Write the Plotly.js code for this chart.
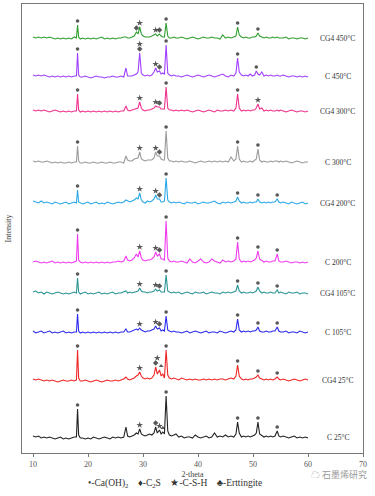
<!DOCTYPE html>
<html><head><meta charset="utf-8">
<script src="https://cdn.plot.ly/plotly-3.0.1.min.js"></script>
<style>html,body{margin:0;padding:0;background:#fff}#chart{width:375px;height:496px}</style>
</head><body><div id="chart"></div>
<script>
// 2-theta grid (degrees)
const twoTheta = [
10,10.5,11,11.5,12,12.5,13,13.5,14,14.5,15,15.5,16,16.5,17,17.5,
17.9,18.1,18.3,18.6,
19,19.5,20,20.5,21,21.5,22,22.5,23,23.5,24,24.5,25,25.5,26,26.5,
26.9,27.2,27.6,28.0,28.4,28.8,29.1,29.4,29.7,30.0,30.4,30.8,31.2,31.6,32.0,32.3,32.6,33.0,33.3,33.6,33.9,34.2,34.5,34.8,35.2,35.6,36.0,
36.5,37,37.5,38,38.5,39,39.5,40,40.5,41,41.5,42,42.5,43,43.5,44,44.5,45,45.5,46,46.5,
46.9,47.2,47.5,47.9,48.3,48.7,49.1,49.5,49.9,50.3,50.6,50.9,51.2,51.6,52.0,52.4,52.8,53.2,53.6,54.0,54.4,54.7,55.0,
55.5,56,56.5,57,57.5,58,58.5,59,59.5,60];

// relative intensities (a.u.)
const C_25 = [3,2,3,1,2,1,2,1,0,1,2,0,1,0,1,2, 2,30,4,1, 1,0,1,0,2,1,0,1,2,1,0,2,1,2,1,2,
12,3,2,3,4,6,5,10,5,4,3,4,5,4,6,12,6,9,5,7,5,43,8,4,3,4,5,
2,3,1,2,2,1,4,2,1,2,3,1,2,6,2,3,2,4,2,3,2,
5,17,6,2,3,2,3,2,3,4,6,17,5,3,2,3,2,3,2,3,8,3,2, 3,2,1,2,3,1,2,1,2,1];
const CG4_25 = [3,2,3,2,1,2,1,2,1,0,1,2,1,1,2,1, 2,32,4,1, 1,2,1,0,1,2,1,0,1,2,1,1,2,1,2,3,
5,3,2,3,4,6,7,10,6,4,3,4,3,4,7,15,8,12,6,8,4,32,7,4,3,4,3,
2,4,3,2,3,2,3,2,2,3,2,3,2,3,2,3,3,2,3,4,3,
6,17,6,3,2,3,2,3,3,4,5,7,4,3,2,3,2,3,2,3,5,3,2, 3,2,1,2,3,2,1,2,3,2];
const C_105 = [3,1,2,3,1,2,3,1,2,1,2,3,1,2,1,2, 2,20,3,1, 2,1,2,1,2,1,2,1,2,1,2,1,2,1,2,2,
5,2,2,3,4,5,4,6,4,3,2,3,3,4,5,8,5,6,3,4,3,18,4,3,2,3,2,
2,1,2,3,1,2,3,2,1,2,3,1,2,2,1,3,2,1,2,3,2,
4,15,4,2,3,2,3,2,3,3,4,7,3,2,2,3,2,2,3,3,7,3,2, 2,3,1,2,2,1,3,2,1,2];
const CG4_105 = [3,4,2,3,1,3,2,1,2,3,2,1,2,1,2,3, 2,17,3,1, 2,3,1,2,1,2,3,1,2,1,2,3,1,2,2,3,
4,2,3,2,3,4,4,7,4,3,3,2,3,3,4,6,4,5,3,3,3,20,4,3,2,3,2,
3,1,2,3,2,1,3,2,2,3,1,2,3,2,2,1,3,2,3,2,3,
4,10,4,2,3,2,2,3,2,3,4,8,4,2,3,2,2,3,2,2,5,2,3, 2,1,3,2,2,3,1,2,2,1];
const C_200 = [2,3,2,1,2,1,2,3,1,2,1,2,1,2,1,2, 3,30,4,2, 1,2,1,2,1,2,1,2,1,2,1,2,2,3,2,3,
8,4,3,4,6,10,7,13,6,4,3,4,4,5,7,12,8,10,5,5,4,43,6,3,2,3,2,
2,3,2,1,5,2,1,3,5,2,1,2,5,3,2,1,4,2,3,2,3,
5,22,5,2,3,2,3,2,3,4,6,13,5,3,2,3,2,2,3,3,10,3,2, 2,3,2,1,2,2,1,2,1,2];
const CG4_200 = [4,3,2,4,2,3,2,1,3,2,1,2,3,1,2,3, 2,15,3,2, 1,2,3,1,2,3,1,2,1,3,2,1,2,3,2,3,
5,4,3,4,5,7,6,12,5,3,2,4,3,4,6,10,6,6,3,3,4,27,5,3,2,3,2,
3,2,1,3,2,2,3,1,2,3,2,2,3,4,2,1,3,2,3,2,3,
4,8,4,2,3,2,2,3,2,3,3,6,3,2,3,2,3,2,3,3,6,3,2, 3,2,1,3,2,1,2,3,1,2];
const C_300 = [3,2,3,2,2,3,2,1,2,1,2,1,1,2,1,2, 2,18,3,1, 1,2,1,1,2,1,1,2,1,1,2,1,1,2,2,1,
8,4,3,3,5,6,6,12,5,4,3,4,4,4,6,12,8,8,5,4,4,33,6,3,3,2,3,
2,3,2,2,3,2,1,2,3,2,2,3,2,3,2,3,2,3,2,7,3,
5,18,5,2,3,2,2,3,2,4,5,15,4,2,3,2,2,3,2,3,3,2,3, 2,3,2,1,2,3,2,1,2,2];
const CG4_300 = [3,2,3,2,3,2,1,2,3,2,1,2,1,2,1,2, 2,19,3,1, 2,1,2,1,2,1,2,1,2,1,2,1,2,1,2,2,
7,3,2,3,4,5,5,11,5,3,2,3,3,4,5,7,6,6,4,4,4,26,5,3,3,2,3,
2,3,2,3,2,1,2,3,2,1,2,3,2,1,3,2,2,3,2,3,2,
5,19,5,2,3,2,3,2,3,3,5,9,4,5,2,3,2,3,2,2,3,2,3, 2,1,2,3,2,1,2,2,1,2];
const C_450 = [3,2,3,2,3,2,1,2,1,2,1,2,1,2,1,2, 2,25,3,1, 1,2,1,0,1,2,1,1,0,1,1,2,1,1,2,1,
10,2,2,2,3,4,6,25,5,3,2,3,2,3,6,10,6,7,4,5,4,33,5,3,2,3,2,
2,1,2,3,2,1,2,3,2,1,2,3,2,1,2,3,4,2,1,3,2,
5,20,6,3,2,3,2,4,2,3,7,4,3,6,2,3,2,3,2,2,3,2,2, 3,2,1,2,2,1,2,1,2,1];
const CG4_450 = [3,2,3,2,3,2,3,2,1,2,1,2,1,2,1,3, 2,15,3,1, 2,1,2,1,2,1,2,3,1,2,1,2,1,2,2,3,
3,2,2,3,4,8,6,13,6,4,3,3,3,4,5,6,4,6,4,3,3,17,4,2,2,3,2,
2,3,2,1,2,3,2,1,2,3,2,2,3,2,2,1,5,2,3,2,3,
4,13,5,3,2,3,2,2,3,3,4,7,4,3,2,3,2,2,3,2,3,2,2, 2,3,1,2,2,1,2,2,1,2];

const sampleNames = ['C 25°C','CG4 25°C','C 105°C','CG4 105°C','C 200°C','CG4 200°C','C 300°C','CG4 300°C','C 450°C','CG4 450°C'];
const seriesData = [C_25, CG4_25, C_105, CG4_105, C_200, CG4_200, C_300, CG4_300, C_450, CG4_450];
const stackOffsets = [14, 71, 119, 158, 189, 248, 289, 340, 375, 413];
const lineColors = ['#222222','#f02626','#2b2bef','#2a9494','#f03cf0','#2aa8e8','#9a9a9a','#f0308e','#a040ff','#2e9e2e'];

// phase marks: [2-theta, phase, stack level]  c=Ca(OH)2 d=C2S s=C-S-H t=Ettringite
const phaseMarks = [
  [[18.1,'c'],[29.4,'s'],[32.3,'d'],[33.0,'s'],[33.6,'t'],[34.2,'c'],[47.2,'c'],[50.9,'c'],[54.4,'c']],
  [[18.1,'c'],[29.4,'s'],[32.3,'d'],[32.6,'s',1],[33.3,'t'],[34.2,'c'],[47.2,'c'],[50.9,'c'],[54.4,'c']],
  [[18.1,'c'],[29.4,'s'],[32.3,'s'],[33.0,'d'],[34.2,'c'],[47.2,'c'],[50.9,'c'],[54.4,'c']],
  [[18.1,'c'],[29.4,'s'],[32.3,'s'],[33.0,'d'],[34.2,'c'],[47.2,'c'],[50.9,'c'],[54.4,'c']],
  [[18.1,'c'],[29.4,'s'],[32.3,'s'],[33.0,'d'],[34.2,'c'],[47.2,'c'],[50.9,'c'],[54.4,'c']],
  [[18.1,'c'],[29.4,'s'],[32.3,'s'],[33.0,'d'],[34.2,'c'],[47.2,'c'],[50.9,'c'],[54.4,'c']],
  [[18.1,'c'],[29.4,'s'],[32.3,'s'],[33.0,'d'],[34.2,'c'],[47.2,'c'],[50.9,'c']],
  [[18.1,'c'],[29.4,'s'],[32.3,'s'],[33.0,'d'],[34.2,'c'],[47.2,'c'],[50.9,'s']],
  [[18.1,'c'],[29.4,'d'],[29.4,'s',1],[32.3,'s'],[33.0,'d'],[34.2,'c'],[47.2,'c'],[50.6,'c']],
  [[18.1,'c'],[28.8,'d'],[29.4,'s'],[32.3,'s'],[33.0,'d'],[34.2,'c'],[47.2,'c'],[50.9,'c']]
];
const symbolOf = {c:'circle', d:'diamond', s:'star', t:'triangle-up'};
const sizeOf = {c:3.6, d:4.2, s:5, t:4.2};

const traces = [];
seriesData.forEach((vals, i) => {
  traces.push({
    type:'scatter', mode:'lines', x: twoTheta, y: vals.map(v => v + stackOffsets[i]),
    line:{color: lineColors[i], width: 1.1}, hoverinfo:'skip', showlegend:false
  });
});
const mx = [], my = [], msym = [], msz = [];
phaseMarks.forEach((list, i) => {
  list.forEach(m => {
    const idx = twoTheta.indexOf(m[0]);
    const vals = seriesData[i];
    let top = vals[idx];
    if (idx > 0) top = Math.max(top, vals[idx-1]);
    if (idx < vals.length-1) top = Math.max(top, vals[idx+1]);
    mx.push(m[0]);
    my.push(stackOffsets[i] + top + 4 + (m[2] || 0) * 5);
    msym.push(symbolOf[m[1]]);
    msz.push(sizeOf[m[1]]);
  });
});
traces.push({type:'scatter', mode:'markers', x:mx, y:my, hoverinfo:'skip', showlegend:false,
  marker:{symbol:msym, size:msz, color:'#111', line:{width:0}}});

const serif = 'Liberation Serif, Times New Roman, serif';
const annotations = sampleNames.map((name, i) => ({
  x: 65.4, y: stackOffsets[i] + 2, xref:'x', yref:'y', text: name, showarrow:false,
  xanchor:'center', yanchor:'middle', font:{family: serif, size: 7.5, color:'#333'}
}));
annotations.push({
  xref:'paper', yref:'paper', x:0.449, y:-0.068, xanchor:'center', yanchor:'middle', showarrow:false,
  text:'•-Ca(OH)<sub>2</sub>    ♦-C<sub>2</sub>S    ★-C-S-H    ♣-Erttingite',
  font:{family: serif, size: 9.5, color:'#333'}
});
annotations.push({
  xref:'paper', yref:'paper', x:0.93, y:-0.047, xanchor:'center', yanchor:'middle', showarrow:false,
  text:'☁ 石墨烯研究', font:{family:'Noto Sans CJK SC, DejaVu Sans', size:9, color:'#9a9a9a'}
});

const layout = {
  width:375, height:496, paper_bgcolor:'#fff', plot_bgcolor:'#fff',
  margin:{l:22, r:12, t:4, b:43},
  showlegend:false,
  xaxis:{range:[8,70], tickvals:[10,20,30,40,50,60,70], ticks:'outside', ticklen:3, tickcolor:'#777',
    showline:true, linecolor:'#777', linewidth:1, mirror:true, showgrid:false, zeroline:false,
    tickfont:{family: serif, size:8, color:'#555'},
    title:{text:'2-theta', font:{family: serif, size:8, color:'#444'}, standoff:3}},
  yaxis:{range:[0,449], showticklabels:false, ticks:'', showline:true, linecolor:'#777', linewidth:1,
    mirror:true, showgrid:false, zeroline:false,
    title:{text:'Intensity', font:{family: serif, size:8, color:'#444'}, standoff:8}},
  annotations: annotations
};
Plotly.newPlot('chart', traces, layout, {staticPlot:true, displayModeBar:false});
</script>
</body></html>
